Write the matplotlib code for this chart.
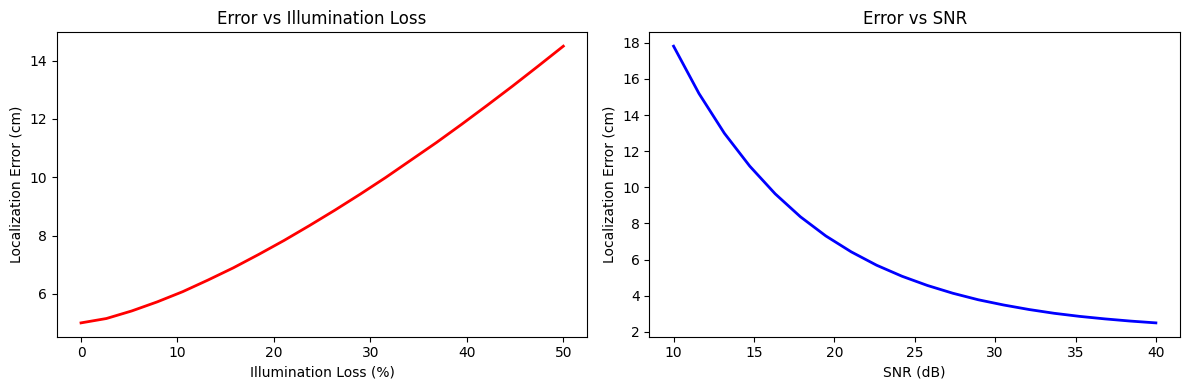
import matplotlib
matplotlib.use("Agg")
import matplotlib.pyplot as plt

# Illumination loss sweep
illum_loss = [0.0, 2.63, 5.26, 7.89, 10.53, 13.16, 15.79, 18.42, 21.05, 23.68,
              26.32, 28.95, 31.58, 34.21, 36.84, 39.47, 42.11, 44.74, 47.37, 50.0]
illum_err = [5.00, 5.15, 5.41, 5.72, 6.07, 6.47, 6.89, 7.35, 7.83, 8.34,
             8.87, 9.42, 9.99, 10.59, 11.19, 11.82, 12.47, 13.13, 13.81, 14.50]

# SNR sweep
snr_db = [10.0, 11.58, 13.16, 14.74, 16.32, 17.89, 19.47, 21.05, 22.63, 24.21,
          25.79, 27.37, 28.95, 30.53, 32.11, 33.68, 35.26, 36.84, 38.42, 40.0]
snr_err = [17.81, 15.19, 12.99, 11.17, 9.64, 8.37, 7.31, 6.43, 5.69, 5.08,
           4.57, 4.14, 3.78, 3.49, 3.24, 3.03, 2.86, 2.72, 2.60, 2.50]

fig, (ax1, ax2) = plt.subplots(1, 2, figsize=(12, 4), dpi=100)

ax1.plot(illum_loss, illum_err, 'r-', lw=2)
ax1.set_title('Error vs Illumination Loss')
ax1.set_xlabel('Illumination Loss (%)')
ax1.set_ylabel('Localization Error (cm)')

ax2.plot(snr_db, snr_err, 'b-', lw=2)
ax2.set_title('Error vs SNR')
ax2.set_xlabel('SNR (dB)')
ax2.set_ylabel('Localization Error (cm)')

plt.tight_layout()
plt.savefig('out.png', bbox_inches='tight')
